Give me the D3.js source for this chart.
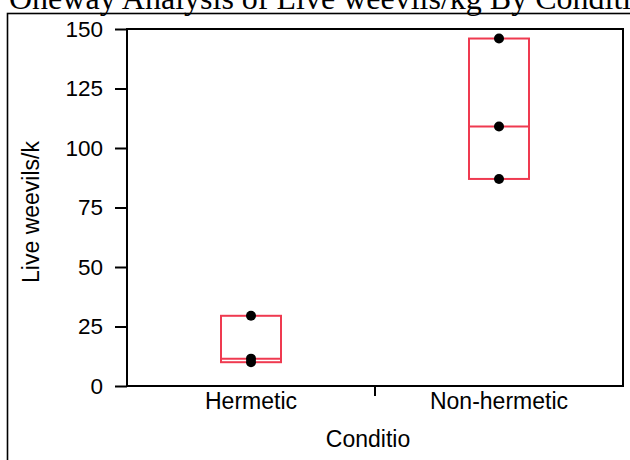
<!DOCTYPE html>
<html>
<head>
<meta charset="utf-8">
<script src="https://cdn.jsdelivr.net/npm/d3@7"></script>
<style>
  body { margin: 0; background: #fff; }
  svg { display: block; }
</style>
</head>
<body>
<div id="chart"></div>
<script>
// values
const conditions = ["Hermetic", "Non-hermetic"];
const hermeticValues = [29.5, 11.5, 10];
const nonHermeticValues = [146, 109, 87];
const yTicks = [0, 25, 50, 75, 100, 125, 150];

const titleText = "Oneway Analysis of Live weevils/kg By Conditi";
const yTitle = "Live weevils/k";
const xTitle = "Conditio";

const width = 630, height = 460;
const margin = { top: 29, right: 7, bottom: 74, left: 127 };
const plotW = width - margin.left - margin.right,
  plotH = height - margin.top - margin.bottom;

const sans = "Liberation Sans, Arial, sans-serif";

const svg = d3.select("#chart")
  .append("svg")
  .attr("width", width)
  .attr("height", height);

// title, cut off at the top like the original
svg.append("text")
  .attr("x", 9)
  .attr("y", 9)
  .attr("font-family", "Liberation Serif, Times New Roman, serif")
  .attr("font-size", "32px")
  .text(titleText);

// outer frame (runs off right and bottom)
svg.append("rect")
  .attr("x", 7.5)
  .attr("y", 13.5)
  .attr("width", 700)
  .attr("height", 500)
  .attr("fill", "none")
  .attr("stroke", "#000")
  .attr("stroke-width", 1.6);

const g = svg.append("g")
  .attr("transform", "translate(" + margin.left + "," + margin.top + ")");

const x = d3.scaleBand()
  .domain(conditions)
  .range([0, plotW])
  .padding(0);

const y = d3.scaleLinear()
  .domain([0, 150])
  .range([plotH, 0]);

// plot frame
g.append("rect")
  .attr("width", plotW)
  .attr("height", plotH)
  .attr("fill", "none")
  .attr("stroke", "#000")
  .attr("stroke-width", 2);

// y axis
const yAxis = g.append("g")
  .call(d3.axisLeft(y).tickValues(yTicks).tickSize(12).tickPadding(12))
  .style("font-family", sans)
  .style("font-size", "22.5px");
yAxis.select(".domain").remove();
yAxis.selectAll(".tick line").attr("stroke-width", 2);
yAxis.selectAll(".tick text").attr("fill", "#000");

// x axis: labels centred in band, one separator tick
const xAxis = g.append("g")
  .attr("transform", "translate(0," + plotH + ")");
xAxis.selectAll("text")
  .data(conditions)
  .join("text")
  .attr("x", d => x(d) + x.bandwidth() / 2)
  .attr("y", 23)
  .attr("text-anchor", "middle")
  .attr("font-family", sans)
  .attr("font-size", "23px")
  .text(d => d);
xAxis.append("line")
  .attr("x1", x(conditions[1]))
  .attr("x2", x(conditions[1]))
  .attr("y1", 0)
  .attr("y2", 10)
  .attr("stroke", "#000")
  .attr("stroke-width", 2);

// axis titles
svg.append("text")
  .attr("x", 368)
  .attr("y", 447)
  .attr("text-anchor", "middle")
  .attr("font-family", sans)
  .attr("font-size", "23px")
  .text(xTitle);

svg.append("text")
  .attr("transform", "translate(39,212) rotate(-90)")
  .attr("text-anchor", "middle")
  .attr("font-family", sans)
  .attr("font-size", "23px")
  .text(yTitle);

// JMP style quantile: position (n+1)p
function quant(vals, p) {
  const s = vals.slice().sort(d3.ascending);
  const pos = (s.length + 1) * p;
  if (pos <= 1) return s[0];
  if (pos >= s.length) return s[s.length - 1];
  const lo = Math.floor(pos);
  return s[lo - 1] + (pos - lo) * (s[lo] - s[lo - 1]);
}

const groups = [
  { name: conditions[0], values: hermeticValues },
  { name: conditions[1], values: nonHermeticValues }
];

const boxW = 60;
const red = "#ef3a50";

groups.forEach(function (grp) {
  const cx = x(grp.name) + x.bandwidth() / 2;
  const q1 = quant(grp.values, 0.25),
    med = quant(grp.values, 0.5),
    q3 = quant(grp.values, 0.75);

  g.append("rect")
    .attr("x", cx - boxW / 2)
    .attr("y", y(q3))
    .attr("width", boxW)
    .attr("height", y(q1) - y(q3))
    .attr("fill", "none")
    .attr("stroke", red)
    .attr("stroke-width", 2);

  g.append("line")
    .attr("x1", cx - boxW / 2)
    .attr("x2", cx + boxW / 2)
    .attr("y1", y(med))
    .attr("y2", y(med))
    .attr("stroke", red)
    .attr("stroke-width", 2);

  g.selectAll(null)
    .data(grp.values)
    .join("circle")
    .attr("cx", cx)
    .attr("cy", d => y(d))
    .attr("r", 5)
    .attr("fill", "#000");
});
</script>
</body>
</html>
